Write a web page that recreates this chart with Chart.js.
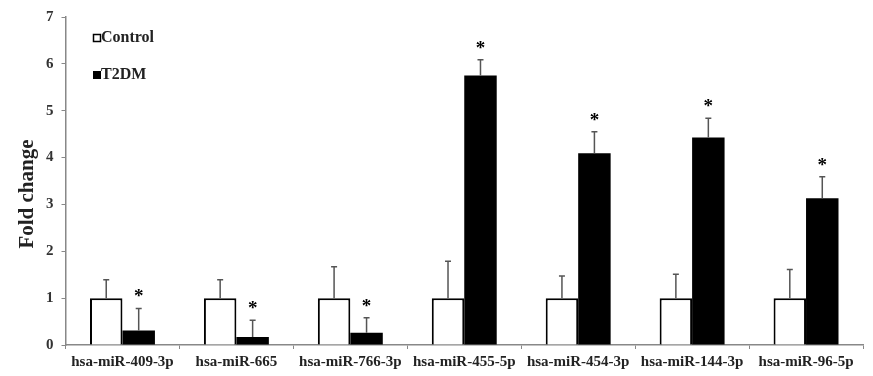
<!DOCTYPE html>
<html lang="en">
<head>
  <meta charset="UTF-8">
  <title>Fold change</title>
  <style>
    body { margin: 0; background: #fff; }
    #wrap { width: 873px; height: 376px; position: relative; }
  </style>
</head>
<body>
  <div id="wrap"><canvas id="chart"></canvas></div>
  <script src="https://cdn.jsdelivr.net/npm/chart.js@4/dist/chart.umd.min.js"></script>
  <script>
    const labels = ['hsa-miR-409-3p', 'hsa-miR-665', 'hsa-miR-766-3p', 'hsa-miR-455-5p', 'hsa-miR-454-3p', 'hsa-miR-144-3p', 'hsa-miR-96-5p'];
    const controlValues = [1, 1, 1, 1, 1, 1, 1];
    const controlErrors = [0.39, 0.39, 0.67, 0.79, 0.47, 0.51, 0.61];
    const t2dmValues = [0.31, 0.17, 0.26, 5.75, 4.09, 4.43, 3.13];
    const t2dmErrors = [0.47, 0.36, 0.32, 0.34, 0.46, 0.41, 0.46];
    const significant = [true, true, true, true, true, true, true];

    const serif = '"Liberation Serif", "Times New Roman", serif';

    // error bars (upper only), asterisks, axis title and the little legend inside the plot
    const extras = {
      id: 'extras',
      afterDatasetsDraw(chart) {
        const ctx = chart.ctx;
        const y = chart.scales.y;
        const errs = [controlErrors, t2dmErrors];
        ctx.save();
        chart.data.datasets.forEach((ds, di) => {
          const meta = chart.getDatasetMeta(di);
          meta.data.forEach((bar, i) => {
            const top = y.getPixelForValue(ds.data[i] + errs[di][i]);
            const base = y.getPixelForValue(ds.data[i]);
            ctx.strokeStyle = '#555';
            ctx.lineWidth = 1.5;
            ctx.beginPath();
            ctx.moveTo(bar.x, base);
            ctx.lineTo(bar.x, top);
            ctx.moveTo(bar.x - 3, top);
            ctx.lineTo(bar.x + 3, top);
            ctx.stroke();
            if (di === 1 && significant[i]) {
              ctx.fillStyle = '#000';
              ctx.font = 'bold 19px ' + serif;
              ctx.textAlign = 'center';
              ctx.textBaseline = 'middle';
              ctx.fillText('*', bar.x, top - 11);
            }
          });
        });

        // y title, placed a bit below centre like the original
        ctx.save();
        ctx.translate(28, 194);
        ctx.rotate(-Math.PI / 2);
        ctx.font = 'bold 21px ' + serif;
        ctx.fillStyle = '#222';
        ctx.textAlign = 'center';
        ctx.textBaseline = 'middle';
        ctx.fillText('Fold change', 0, 0);
        ctx.restore();

        // legend
        ctx.font = 'bold 16px ' + serif;
        ctx.textAlign = 'left';
        ctx.textBaseline = 'middle';
        ctx.fillStyle = '#222';
        ctx.lineWidth = 1.5;
        ctx.strokeStyle = '#000';
        ctx.strokeRect(93.5, 34.5, 7, 7);
        ctx.fillText('Control', 101, 38);
        ctx.fillStyle = '#000';
        ctx.fillRect(93, 71, 8, 8);
        ctx.fillStyle = '#222';
        ctx.fillText('T2DM', 101, 75);
        ctx.restore();
      }
    };

    new Chart(document.getElementById('chart'), {
      type: 'bar',
      data: {
        labels: labels,
        datasets: [
          {
            label: 'Control',
            data: controlValues,
            backgroundColor: '#fff',
            borderColor: '#000',
            borderWidth: 2
          },
          {
            label: 'T2DM',
            data: t2dmValues,
            backgroundColor: '#000',
            borderColor: '#000',
            borderWidth: 0
          }
        ]
      },
      options: {
        responsive: true,
        maintainAspectRatio: false,
        animation: false,
        layout: { padding: { top: 9, right: 10, left: 38, bottom: 1 } },
        plugins: {
          legend: { display: false },
          tooltip: { enabled: false }
        },
        datasets: {
          bar: { categoryPercentage: 0.57, barPercentage: 1.0 }
        },
        scales: {
          x: {
            grid: { display: true, drawOnChartArea: false, drawTicks: true, tickLength: 4, color: '#888' },
            border: { color: '#888', width: 1.5 },
            ticks: {
              color: '#222',
              maxRotation: 0,
              autoSkip: false,
              padding: 4,
              font: { family: serif, size: 15, weight: 'bold' }
            }
          },
          y: {
            min: 0,
            max: 7,
            ticks: {
              stepSize: 1,
              color: '#333',
              padding: 8,
              font: { family: serif, size: 15, weight: 'bold' }
            },
            grid: { display: true, drawOnChartArea: false, drawTicks: true, tickLength: 4, color: '#888' },
            border: { color: '#888', width: 1.5 },
            title: { display: false }
          }
        }
      },
      plugins: [extras]
    });
  </script>
</body>
</html>
